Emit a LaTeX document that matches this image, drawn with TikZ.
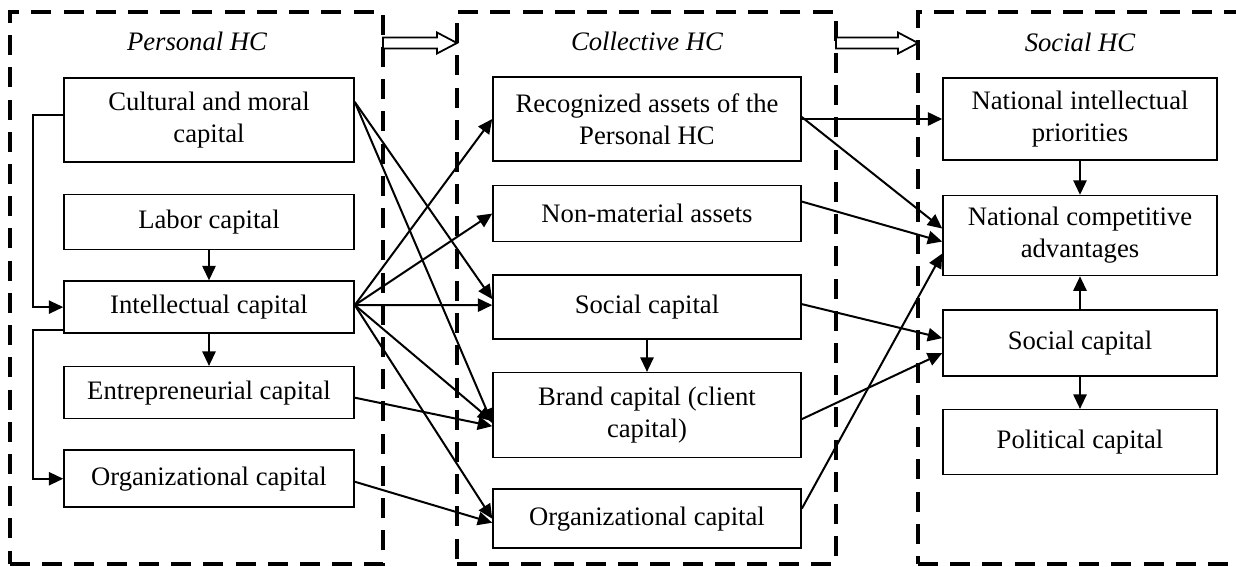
\documentclass[tikz,border=0pt]{standalone}
\usepackage{fontspec}
\setmainfont{Liberation Serif}
\usetikzlibrary{positioning, calc, arrows.meta}

\tikzset{
  box/.style={draw, line width=0.7pt, align=center, inner sep=1pt, font=\fontsize{12}{14.4}\selectfont},
  pbox/.style={box, minimum width=130.5pt},
  cbox/.style={box, minimum width=138.6pt},
  sbox/.style={box, minimum width=123.3pt},
  group/.style={draw, dash pattern=on 9pt off 5.5pt, line width=1.4pt, minimum height=248.4pt, inner sep=0pt, outer sep=0pt},
  title/.style={font=\fontsize{12}{14.4}\selectfont\itshape},
  arr/.style={-{Triangle[length=6.5pt, width=6pt]}, line width=0.9pt},
  link/.style={-{Triangle[length=6.5pt, width=6pt]}, line width=0.7pt},
  hollow/.style={draw, line width=0.8pt, fill=white, line join=miter},
}

\begin{document}
\begin{tikzpicture}[x=0.45pt, y=-0.45pt]
  \useasboundingbox (0,0) rectangle (1236,566);
  \node[group, minimum width=167.85pt] (pers) at (196.5,288) {};
  \node[group, minimum width=170.55pt] (coll) at (646.5,288) {};
  \node[group, minimum width=144.9pt] (soc) at (1079,288) {};
  \node[title] (persT) at (197,41) {Personal HC};
  \node[title] (collT) at (647,41) {Collective HC};
  \node[title] (socT) at (1080,42) {Social HC};

  \node[pbox, minimum height=37.8pt] (cult) at (209,120) {Cultural and moral\\capital};
  \node[pbox, minimum height=24.75pt, below=13.95pt of cult] (labor) {Labor capital};
  \node[pbox, minimum height=23.4pt, below=13.5pt of labor] (intel) {Intellectual capital};
  \node[pbox, minimum height=23.4pt, below=14.4pt of intel] (entre) {Entrepreneurial capital};
  \node[pbox, minimum height=25.65pt, below=13.5pt of entre] (orgP) {Organizational capital};

  \node[cbox, minimum height=37.8pt] (recog) at (647,119) {Recognized assets of the\\Personal HC};
  \node[cbox, minimum height=25.2pt, below=10.35pt of recog] (nonmat) {Non-material assets};
  \node[cbox, minimum height=28.8pt, below=14.4pt of nonmat] (socC) {Social capital};
  \node[cbox, minimum height=38.25pt, below=14.4pt of socC] (brand) {Brand capital (client\\capital)};
  \node[cbox, minimum height=26.55pt, below=13.5pt of brand] (orgC) {Organizational capital};

  \node[sbox, minimum height=36.9pt] (natint) at (1080,119) {National intellectual\\priorities};
  \node[sbox, minimum height=36pt, below=15.3pt of natint] (natcomp) {National competitive\\advantages};
  \node[sbox, minimum height=29.7pt, below=14.85pt of natcomp] (socS) {Social capital};
  \node[sbox, minimum height=29.25pt, below=14.4pt of socS] (polit) {Political capital};

  \draw[hollow] ($(pers.north east)+(0,25.5)$) -- ++(54,0) -- ++(0,-5) -- ++(20,10.5) -- ++(-20,10.5) -- ++(0,-5) -- ++(-54,0) -- cycle;
  \draw[hollow] ($(coll.north east)+(0,25.5)$) -- ++(62,0) -- ++(0,-5) -- ++(20,10.5) -- ++(-20,10.5) -- ++(0,-5) -- ++(-62,0) -- cycle;

  \draw[link] (labor) -- (intel);
  \draw[link] (intel) -- (entre);
  \draw[link] ($(cult.west)+(0,-5)$) -| ($(intel.west)+(-30,0)$) -- (intel.west);
  \draw[link] ($(intel.south west)+(0,-4)$) -| ($(orgP.west)+(-30,0)$) -- (orgP.west);
  \draw[link] (socC) -- (brand);
  \draw[link] (natint) -- (natcomp);
  \draw[link] (socS) -- (natcomp);
  \draw[link] (socS) -- (polit);

  \draw[arr] ($(cult.east)+(0,-18)$) -- ($(socC.west)+(0,-8)$);
  \draw[arr] ($(cult.east)+(0,-18)$) -- ($(brand.west)+(0,8)$);
  \draw[arr] ($(intel.east)+(0,-2)$) -- (recog.west);
  \draw[arr] ($(intel.east)+(0,-2)$) -- (nonmat.west);
  \draw[arr] ($(intel.east)+(0,-2)$) -- ($(socC.west)+(0,-2)$);
  \draw[arr] ($(intel.east)+(0,-2)$) -- ($(brand.west)+(0,6)$);
  \draw[arr] ($(intel.east)+(0,-2)$) -- (orgC.west);
  \draw[arr] ($(entre.east)+(0,5)$) -- ($(brand.west)+(0,11)$);
  \draw[arr] ($(orgP.east)+(0,3)$) -- ($(orgC.west)+(0,4)$);

  \draw[arr] (recog.east) -- (natint.west);
  \draw[arr] ($(recog.east)+(0,-2)$) -- ($(natcomp.west)+(0,-7)$);
  \draw[arr] ($(nonmat.east)+(0,-12)$) -- ($(natcomp.west)+(0,6)$);
  \draw[arr] ($(orgC.east)+(0,-10)$) -- ($(natcomp.west)+(0,18)$);
  \draw[arr] ($(socC.east)+(0,-3)$) -- ($(socS.west)+(0,-5)$);
  \draw[arr] ($(brand.east)+(0,4)$) -- ($(socS.west)+(0,10)$);
\end{tikzpicture}
\end{document}
